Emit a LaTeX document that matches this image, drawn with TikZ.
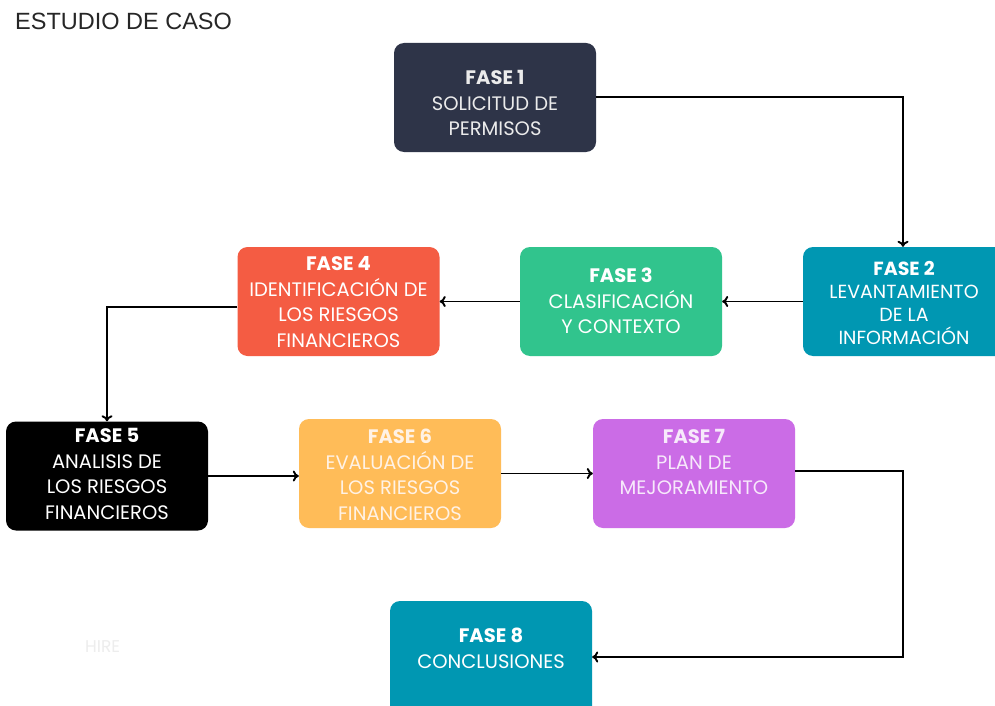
\documentclass[tikz,border=0pt]{standalone}
\usepackage{fontspec}
\setmainfont{Poppins}
\newfontfamily\arialf{Liberation Sans}
\usetikzlibrary{arrows.meta}
\definecolor{cdark}{HTML}{2E3448}
\definecolor{cteal}{HTML}{0097B2}
\definecolor{cgreen}{HTML}{31C48D}
\definecolor{cred}{HTML}{F45C43}
\definecolor{corange}{HTML}{FFBC58}
\definecolor{cpurple}{HTML}{CB6CE6}
\tikzset{
  box/.style={draw=none, rounded corners=10pt, minimum width=202pt, minimum height=109pt, inner sep=0pt},
  txt/.style={align=center, font=\fontsize{19.5}{25.5}\selectfont, text=white, anchor=center, inner sep=0pt},
  conn/.style={line width=1.9pt, -{To[length=6pt,width=11pt]}, black},
}
\newcommand{\ttl}[1]{{\bfseries #1}}
\begin{document}
\begin{tikzpicture}[x=1pt,y=-1pt]
\useasboundingbox[fill=white] (0,0) rectangle (995,706);
\node[anchor=base west, font=\arialf\fontsize{23.5}{26}\selectfont, text=black!85, inner sep=0pt] (title) at (15,30) {ESTUDIO DE CASO};
\node[anchor=base west, font=\fontsize{17}{20}\selectfont, text=black!7, inner sep=0pt] (hire) at (85,652) {HIRE};

\node[box, fill=cdark] (f1) at (495,97.5) {};
\node[box, fill=cteal, minimum width=220pt] (f2) at (913,301.5) {};
\node[box, fill=cgreen] (f3) at (621,301.5) {};
\node[box, fill=cred] (f4) at (338.5,301.5) {};
\node[box, fill=black] (f5) at (107,476) {};
\node[box, fill=corange] (f6) at (400,473.5) {};
\node[box, fill=cpurple] (f7) at (694,473.5) {};
\node[box, fill=cteal, minimum height=130pt] (f8) at (491,666) {};

\node[txt, text=black!8] (t1) at (495,103) {\ttl{FASE 1}\\SOLICITUD DE\\PERMISOS};
\node[txt, font=\fontsize{19}{22.7}\selectfont] (t2) at (904,303) {\ttl{FASE 2}\\LEVANTAMIENTO\\DE LA\\INFORMACIÓN};
\node[txt] (t3) at (621,301) {\ttl{FASE 3}\\CLASIFICACIÓN\\Y CONTEXTO};
\node[txt] (t4) at (338.5,302) {\ttl{FASE 4}\\IDENTIFICACIÓN DE\\LOS RIESGOS\\FINANCIEROS};
\node[txt] (t5) at (107,474) {\ttl{FASE 5}\\ANALISIS DE\\LOS RIESGOS\\FINANCIEROS};
\node[txt, text=white!90!orange] (t6) at (400,475) {\ttl{FASE 6}\\EVALUACIÓN DE\\LOS RIESGOS\\FINANCIEROS};
\node[txt, text=white!85!cpurple] (t7) at (694,462) {\ttl{FASE 7}\\PLAN DE\\MEJORAMIENTO};
\node[txt] (t8) at (491,648.5) {\ttl{FASE 8}\\CONCLUSIONES};

\coordinate (k1) at (903,97);
\coordinate (k4) at (107,307);
\coordinate (k7a) at (903,471);
\coordinate (k7b) at (903,657);

\draw[conn] (f1.east |- k1) -- (k1) -- (k1 |- f2.north);
\draw[conn] (f2.west) -- (f3.east);
\draw[conn] (f3.west) -- (f4.east);
\draw[conn] (f4.west |- k4) -- (k4) -- (f5.north);
\draw[conn] (f5.east) -- (f6.west |- f5.east);
\draw[conn] (f6.east) -- (f7.west);
\draw[conn] (f7.east |- k7a) -- (k7a) -- (k7b) -- (f8.east |- k7b);
\end{tikzpicture}
\end{document}
